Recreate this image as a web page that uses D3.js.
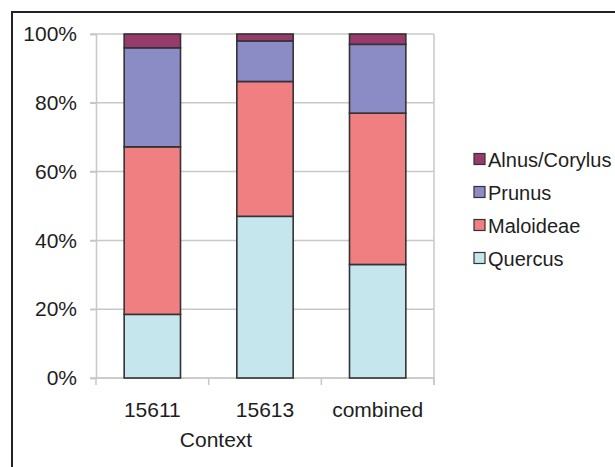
<!DOCTYPE html>
<html>
<head>
<meta charset="utf-8">
<script src="https://cdn.jsdelivr.net/npm/d3@7"></script>
<style>
  html, body { margin: 0; padding: 0; background: #fff; }
  svg { display: block; font-family: "Liberation Sans", Arial, sans-serif; }
</style>
</head>
<body>
<svg id="chart" width="615" height="467"></svg>
<script>
// Charcoal taxa by context (percent of fragments)
const contexts = ["15611", "15613", "combined"];
const taxa = ["Quercus", "Maloideae", "Prunus", "Alnus/Corylus"];
const quercus = [18.5, 47, 33];
const maloideae = [48.7, 39.2, 44];
const prunus = [28.8, 11.8, 20];
const alnusCorylus = [4, 2, 3];
const yTicks = [0, 0.2, 0.4, 0.6, 0.8, 1];
const taxaColors = ["#c6e6ee", "#f07f82", "#8b8bc6", "#983a6c"];

const seriesValues = [quercus, maloideae, prunus, alnusCorylus];
const rows = contexts.map((c, i) => {
  const row = { context: c };
  taxa.forEach((t, k) => { row[t] = seriesValues[k][i]; });
  return row;
});

const svg = d3.select("#chart");
const textColor = "#1e1e1e";
const gridColor = "#c8c8c8";
const fontSize = 21;
const legendFontSize = 20;

// Outer chart frame
svg.append("rect")
  .attr("x", 12).attr("y", 12)
  .attr("width", 700).attr("height", 600)
  .attr("fill", "none").attr("stroke", "#222").attr("stroke-width", 2);

const plot = { left: 96, right: 434, top: 34, bottom: 378 };

const x = d3.scaleBand()
  .domain(contexts)
  .range([plot.left, plot.right])
  .paddingInner(0.5)
  .paddingOuter(0.25);

const y = d3.scaleLinear().domain([0, 1]).range([plot.bottom, plot.top]);

const stack = d3.stack().keys(taxa).offset(d3.stackOffsetExpand);
const layers = stack(rows);

// Gridlines
svg.append("g")
  .selectAll("line")
  .data(yTicks)
  .join("line")
  .attr("x1", plot.left - 6).attr("x2", plot.right)
  .attr("y1", d => y(d)).attr("y2", d => y(d))
  .attr("stroke", gridColor).attr("stroke-width", 1.5);

// Plot area right edge
svg.append("line")
  .attr("x1", plot.right).attr("x2", plot.right)
  .attr("y1", plot.top).attr("y2", plot.bottom + 7)
  .attr("stroke", gridColor).attr("stroke-width", 1.5);

// Y axis
const yAxis = svg.append("g")
  .attr("transform", `translate(${plot.left},0)`)
  .call(d3.axisLeft(y).tickValues(yTicks).tickFormat(d3.format(".0%")).tickSize(6).tickPadding(13));
yAxis.select(".domain").attr("stroke", gridColor).attr("stroke-width", 1.5);
yAxis.selectAll(".tick line").attr("stroke", gridColor).attr("stroke-width", 1.5);
yAxis.selectAll("text").attr("fill", textColor).attr("font-size", fontSize)
  .attr("font-family", "'Liberation Sans', Arial, sans-serif");

// X axis with tick marks between categories
const xAxisG = svg.append("g");
xAxisG.append("line")
  .attr("x1", plot.left).attr("x2", plot.right)
  .attr("y1", plot.bottom).attr("y2", plot.bottom)
  .attr("stroke", gridColor).attr("stroke-width", 1.5);
const boundaries = contexts.map((c, i) => i === 0 ? plot.left : x(c) - x.step() * x.paddingInner() / 2);
boundaries.push(plot.right);
xAxisG.selectAll("line.tk")
  .data(boundaries)
  .join("line")
  .attr("class", "tk")
  .attr("x1", d => d).attr("x2", d => d)
  .attr("y1", plot.bottom).attr("y2", plot.bottom + 7)
  .attr("stroke", gridColor).attr("stroke-width", 1.5);

xAxisG.selectAll("text")
  .data(contexts)
  .join("text")
  .attr("x", d => x(d) + x.bandwidth() / 2)
  .attr("y", 417)
  .attr("text-anchor", "middle")
  .attr("font-size", fontSize)
  .attr("fill", textColor)
  .text(d => d);

svg.append("text")
  .attr("x", 216).attr("y", 447)
  .attr("text-anchor", "middle")
  .attr("font-size", fontSize)
  .attr("fill", textColor)
  .text("Context");

// Stacked bars
svg.append("g")
  .selectAll("g")
  .data(layers)
  .join("g")
  .attr("fill", (d, i) => taxaColors[i])
  .selectAll("rect")
  .data(d => d)
  .join("rect")
  .attr("x", d => x(d.data.context))
  .attr("width", x.bandwidth())
  .attr("y", d => y(d[1]))
  .attr("height", d => y(d[0]) - y(d[1]))
  .attr("stroke", "#333")
  .attr("stroke-width", 1.6);

// Legend (top entry is the last series)
const legend = svg.append("g");
const legendItems = taxa.slice().reverse();
legendItems.forEach((t, i) => {
  const cy = 159 + i * 33;
  const k = taxa.indexOf(t);
  legend.append("rect")
    .attr("x", 474).attr("y", cy - 5.5)
    .attr("width", 11).attr("height", 11)
    .attr("fill", taxaColors[k])
    .attr("stroke", "#333").attr("stroke-width", 1.2);
  legend.append("text")
    .attr("x", 488).attr("y", cy + 7.5)
    .attr("font-size", legendFontSize)
    .attr("fill", textColor)
    .text(t);
});
</script>
</body>
</html>
